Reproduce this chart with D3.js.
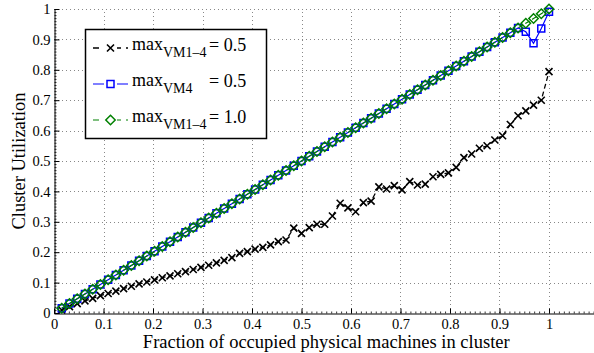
<!DOCTYPE html>
<html>
<head>
<meta charset="utf-8">
<script src="https://cdn.jsdelivr.net/npm/d3@7"></script>
<style>
  body { margin: 0; background: #fff; }
  svg text { font-family: "Liberation Serif", "Times New Roman", serif; fill: #000; }
</style>
</head>
<body>
<div id="chart"></div>
<script>
// fraction of occupied machines: k/64, k = 1..64
const fractions = d3.range(1, 65).map(k => k / 64);

// max_VM1-4 = 0.5 (black crosses)
const utilHalfAll = [
  0.010, 0.021, 0.031, 0.040, 0.048, 0.057, 0.064, 0.072, 0.080, 0.088,
  0.096, 0.102, 0.109, 0.116, 0.122, 0.129, 0.136, 0.143, 0.150, 0.157,
  0.165, 0.173, 0.182, 0.196, 0.202, 0.210, 0.216, 0.224, 0.235, 0.240,
  0.279, 0.262, 0.281, 0.292, 0.292, 0.319, 0.361, 0.346, 0.333, 0.363,
  0.368, 0.415, 0.408, 0.419, 0.405, 0.432, 0.421, 0.424, 0.448, 0.456,
  0.461, 0.479, 0.511, 0.523, 0.542, 0.550, 0.569, 0.583, 0.620, 0.649,
  0.665, 0.684, 0.700, 0.794
];

// max_VM4 = 0.5 (blue squares): on the diagonal until the last four
const utilHalfVM4 = fractions.slice(0, 60).concat([0.925, 0.887, 0.936, 0.991]);

// max_VM1-4 = 1.0 (green diamonds)
const utilFullAll = fractions.slice();

const xTicks = d3.range(0, 11).map(i => i / 10);
const yTicks = d3.range(0, 11).map(i => i / 10);

const W = 594, H = 353;
const svg = d3.select('#chart').append('svg')
  .attr('width', W)
  .attr('height', H);

const x = d3.scaleLinear().domain([0, 1.1]).range([54, 598.5]);
const y = d3.scaleLinear().domain([0, 1]).range([313, 9]);

// grid
const grid = svg.append('g')
  .attr('stroke', '#888')
  .attr('stroke-width', 1)
  .attr('stroke-dasharray', '1,3');
xTicks.slice(1).concat([1.1]).forEach(t => {
  grid.append('line')
    .attr('x1', Math.round(x(t)) + 0.5).attr('x2', Math.round(x(t)) + 0.5)
    .attr('y1', y(0)).attr('y2', y(1));
});
yTicks.slice(1).forEach(t => {
  grid.append('line')
    .attr('x1', x(0)).attr('x2', x(1.1))
    .attr('y1', Math.round(y(t)) + 0.5).attr('y2', Math.round(y(t)) + 0.5);
});

// axes (MATLAB style, ticks pointing inward)
const xAxis = svg.append('g')
  .attr('transform', `translate(0,${Math.round(y(0)) + 0.5})`)
  .call(d3.axisBottom(x).tickValues(d3.range(0, 111).map(i => i / 100))
    .tickSize(-2).tickSizeOuter(0).tickFormat(''));
xAxis.selectAll('.tick line').attr('stroke-width', 0.8);
const xMajor = svg.append('g')
  .attr('transform', `translate(0,${Math.round(y(0)) + 0.5})`)
  .call(d3.axisBottom(x).tickValues(xTicks).tickSize(-5).tickSizeOuter(0)
    .tickFormat(d => d === 0 ? '0' : d3.format('.1~f')(d)));
xMajor.select('.domain').remove();
xMajor.selectAll('text')
  .attr('y', 5)
  .style('font-size', '14.5px')
  .style('font-family', '"Liberation Serif", serif');

const yAxis = svg.append('g')
  .attr('transform', `translate(${Math.round(x(0)) + 0.5},0)`)
  .call(d3.axisLeft(y).tickValues(d3.range(0, 101).map(i => i / 100))
    .tickSize(-2).tickSizeOuter(0).tickFormat(''));
yAxis.selectAll('.tick line').attr('stroke-width', 0.8);
const yMajor = svg.append('g')
  .attr('transform', `translate(${Math.round(x(0)) + 0.5},0)`)
  .call(d3.axisLeft(y).tickValues(yTicks).tickSize(-5).tickSizeOuter(0)
    .tickFormat(d => d === 0 ? '0' : d3.format('.1~f')(d)));
yMajor.select('.domain').remove();
yMajor.selectAll('text')
  .attr('x', -4)
  .style('font-size', '14.5px')
  .style('font-family', '"Liberation Serif", serif');

// axis titles
svg.append('text')
  .attr('x', (x(0) + x(1.1)) / 2)
  .attr('y', 348)
  .attr('text-anchor', 'middle')
  .style('font-size', '18.5px')
  .text('Fraction of occupied physical machines in cluster');

svg.append('text')
  .attr('transform', `translate(25,${(y(0) + y(1)) / 2}) rotate(-90)`)
  .attr('text-anchor', 'middle')
  .style('font-size', '18.5px')
  .text('Cluster Utilization');

// marker shapes
const crossPath = s => `M${-s},${-s}L${s},${s}M${-s},${s}L${s},${-s}`;
const squarePath = s => `M${-s},${-s}H${s}V${s}H${-s}Z`;
const diamondPath = s => `M0,${-s}L${s},0L0,${s}L${-s},0Z`;

const series = [
  { vals: utilHalfAll, color: '#000', dash: '5,3', marker: crossPath(3.5), width: 1.3 },
  { vals: utilHalfVM4, color: '#0000ff', dash: null, marker: squarePath(3.5), width: 1.2 },
  { vals: utilFullAll, color: '#008000', dash: '5,3', marker: diamondPath(4.7), width: 1.2 }
];

const line = d3.line().x((d, i) => x(fractions[i])).y(d => y(d));

series.forEach(s => {
  svg.append('path')
    .datum(s.vals)
    .attr('d', line)
    .attr('fill', 'none')
    .attr('stroke', s.color)
    .attr('stroke-width', s.width)
    .attr('stroke-dasharray', s.dash);
  svg.append('g').selectAll('path')
    .data(s.vals)
    .enter().append('path')
      .attr('transform', (d, i) => `translate(${x(fractions[i])},${y(d)})`)
      .attr('d', s.marker)
      .attr('fill', 'none')
      .attr('stroke', s.color)
      .attr('stroke-width', s.width + 0.3);
});

// legend
const legend = svg.append('g');
legend.append('rect')
  .attr('x', 85.5).attr('y', 29.5)
  .attr('width', 181).attr('height', 109)
  .attr('fill', '#fff')
  .attr('stroke', '#000')
  .attr('stroke-width', 1.5);

const legendSubs = ['VM1\u20134', 'VM4', 'VM1\u20134'];
const legendVals = ['= 0.5', '= 0.5', '= 1.0'];
series.forEach((s, i) => {
  const cy = 48 + i * 36;
  legend.append('line')
    .attr('x1', 93).attr('x2', 128)
    .attr('y1', cy).attr('y2', cy)
    .attr('stroke', s.color)
    .attr('stroke-width', s.width)
    .attr('stroke-dasharray', s.dash ? '6,5' : null);
  legend.append('rect')
    .attr('x', 104).attr('y', cy - 6).attr('width', 13).attr('height', 12)
    .attr('fill', '#fff');
  legend.append('path')
    .attr('transform', `translate(110.5,${cy})`)
    .attr('d', s.marker)
    .attr('fill', 'none')
    .attr('stroke', s.color)
    .attr('stroke-width', s.width + 0.3);
  const t = legend.append('text')
    .attr('x', 132).attr('y', cy + 2)
    .style('font-size', '18px');
  t.append('tspan').text('max');
  t.append('tspan')
    .attr('dy', 7)
    .style('font-size', '14px')
    .text(legendSubs[i]);
  legend.append('text')
    .attr('x', 209).attr('y', cy + 3)
    .style('font-size', '18px')
    .text(legendVals[i]);
});
</script>
</body>
</html>
